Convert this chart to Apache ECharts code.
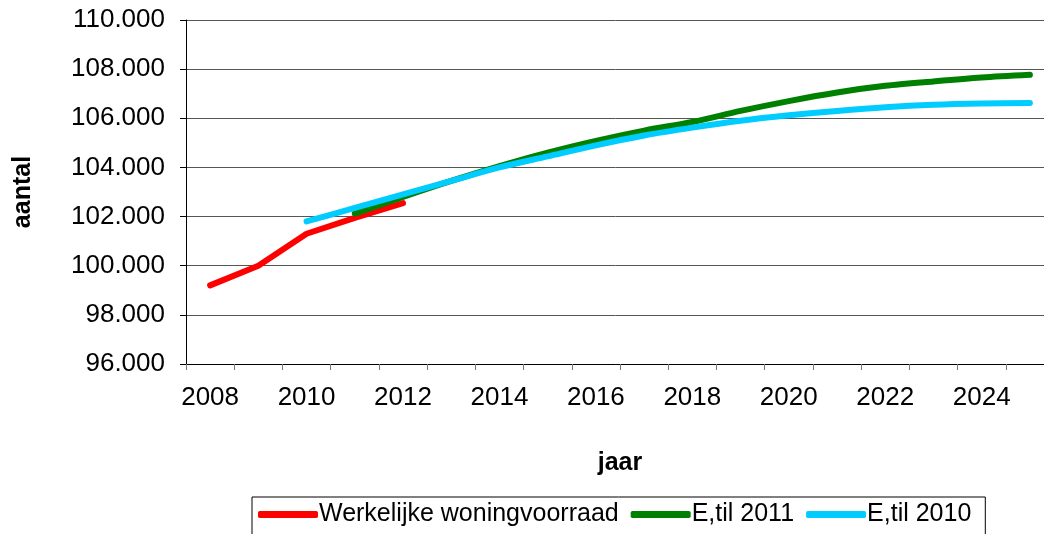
<!DOCTYPE html>
<html>
<head>
<meta charset="utf-8">
<script src="https://cdn.jsdelivr.net/npm/echarts@6/dist/echarts.min.js"></script>
<style>
html, body { margin: 0; padding: 0; background: #fff; }
#showChart { width: 1044px; height: 534px; }
</style>
</head>
<body>
<div id="showChart"></div>
<script>
// jaren op de x-as
var years = ['2008', '2009', '2010', '2011', '2012', '2013', '2014', '2015', '2016',
    '2017', '2018', '2019', '2020', '2021', '2022', '2023', '2024', '2025'];

// Werkelijke woningvoorraad
var werkelijk = [99200, 100000, 101300, 101950, 102550, null, null, null, null,
    null, null, null, null, null, null, null, null, null];

// E,til 2011
var til2011 = [null, null, null, 102120, 102800, 103450, 104050, 104600, 105080,
    105500, 105850, 106300, 106700, 107050, 107320, 107500, 107660, 107770];

// E,til 2010
var til2010 = [null, null, 101800, 102350, 102900, 103450, 104000, 104450, 104900,
    105300, 105620, 105900, 106120, 106300, 106450, 106550, 106600, 106620];

var font = '"Liberation Sans", Arial, sans-serif';

function lijn(name, data, color, smooth) {
    return {
        name: name,
        type: 'line',
        data: data,
        smooth: smooth,
        showSymbol: false,
        symbol: 'none',
        connectNulls: false,
        color: color,
        lineStyle: { width: 6, color: color, cap: 'round', join: 'round' }
    };
}

var option = {
    backgroundColor: '#fff',
    animation: false,
    grid: { left: 186, top: 20, right: -10, bottom: 170, outerBoundsMode: 'none', containLabel: false },
    legend: {
        left: 252,
        top: 497,
        padding: [5, 14, 20, 6],
        borderColor: '#000',
        borderWidth: 1,
        itemGap: 12,
        itemWidth: 60,
        itemHeight: 7,
        icon: 'roundRect',
        textStyle: { fontFamily: font, fontSize: 25, color: '#000', padding: [0, 0, 0, -4] },
        data: ['Werkelijke woningvoorraad', 'E,til 2011', 'E,til 2010']
    },
    xAxis: {
        type: 'category',
        data: years,
        boundaryGap: true,
        name: 'jaar',
        nameLocation: 'middle',
        nameGap: 87,
        nameMoveOverlap: false,
        nameTextStyle: { fontFamily: font, fontSize: 25, fontWeight: 'bold', color: '#000' },
        axisLine: { lineStyle: { color: '#000', width: 1 } },
        axisTick: { show: true, interval: 0, length: 6, lineStyle: { color: '#777' } },
        axisLabel: { interval: 1, margin: 21, fontFamily: font, fontSize: 26, color: '#000' },
        splitLine: { show: false }
    },
    yAxis: {
        type: 'value',
        min: 96000,
        max: 110000,
        interval: 2000,
        name: 'aantal',
        nameLocation: 'middle',
        nameRotate: 90,
        nameGap: 150,
        nameMoveOverlap: false,
        nameTextStyle: { fontFamily: font, fontSize: 25, fontWeight: 'bold', color: '#000' },
        axisLine: { show: true, lineStyle: { color: '#000', width: 1 } },
        axisTick: { show: true, length: 6, lineStyle: { color: '#000' } },
        axisLabel: {
            margin: 21,
            fontFamily: font,
            fontSize: 26,
            color: '#000',
            formatter: function (v) {
                return (v / 1000).toFixed(3);
            }
        },
        splitLine: { show: true, lineStyle: { color: '#555', width: 1 } }
    },
    series: [
        lijn('Werkelijke woningvoorraad', werkelijk, '#FF0000', false),
        lijn('E,til 2011', til2011, '#008000', 0.3),
        lijn('E,til 2010', til2010, '#00CCFF', 0.3)
    ]
};

var chart = echarts.init(document.getElementById('showChart'));
chart.setOption(option);
</script>
</body>
</html>
